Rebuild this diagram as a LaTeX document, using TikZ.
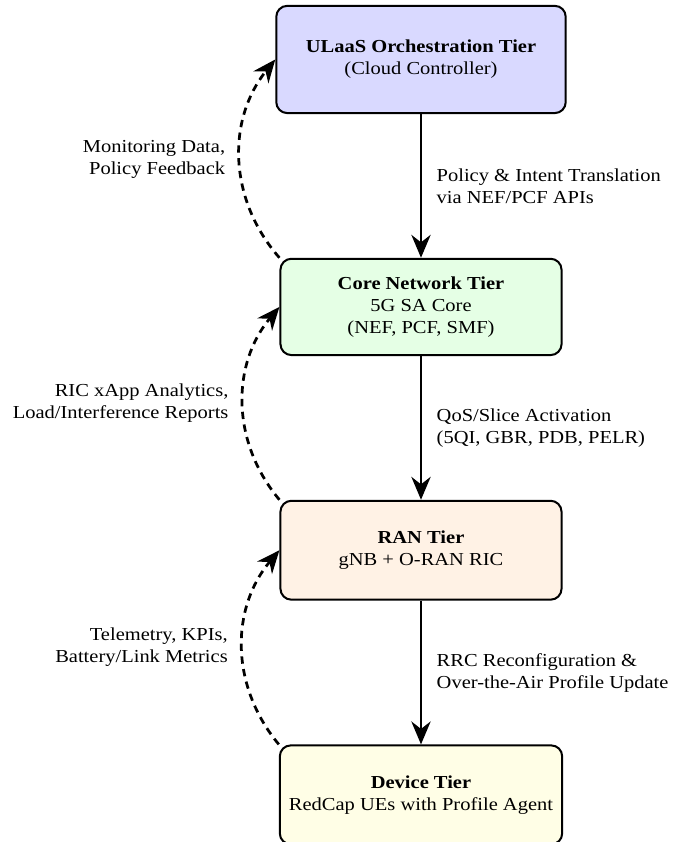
\documentclass[tikz,border=0pt]{standalone}
\usepackage{fontspec}
\setmainfont{Liberation Serif}[FakeStretch=1.12]
\usetikzlibrary{arrows.meta,positioning}

\begin{document}
\begin{tikzpicture}[line width=1.5pt,node distance=2.76cm,
  tier/.style={draw,line width=1.1pt,rounded corners=6pt,align=center,inner sep=5pt,minimum width=5.4cm,minimum height=1.9cm},
  flow/.style={-{Stealth[length=12.5pt,width=10.5pt]}},
  feedback/.style={flow,dash pattern=on 4pt off 3pt}]
\useasboundingbox (0,0) rectangle (374.9pt,-460.2pt);
\node[tier,fill=blue!15,minimum width=5.56cm,minimum height=2.06cm] (cloud) at (230.1pt,-32.5pt) {\textbf{ULaaS Orchestration Tier}\\(Cloud Controller)};
\node[tier,fill=green!10,minimum height=1.85cm,below=of cloud] (core) {\textbf{Core Network Tier}\\5G SA Core\\(NEF, PCF, SMF)};
\node[tier,fill=orange!10,below=of core] (ran) {\textbf{RAN Tier}\\gNB + O-RAN RIC};
\node[tier,fill=yellow!10,below=of ran] (ue) {\textbf{Device Tier}\\RedCap UEs with Profile Agent};
\draw[flow] (cloud) -- node[right=4.5pt,align=left] {Policy \& Intent Translation\\via NEF/PCF APIs} (core);
\draw[flow] (core) -- node[right=4.5pt,align=left] {QoS/Slice Activation\\(5QI, GBR, PDB, PELR)} (ran);
\draw[flow] (ran) -- node[right=4.5pt,align=left] {RRC Reconfiguration \&\\Over-the-Air Profile Update} (ue);
\draw[feedback] (core.north west) to[bend left=40] node[left=4pt,align=right] {Monitoring Data,\\Policy Feedback} (cloud.west);
\draw[feedback] (ran.north west) to[bend left=40] node[left=4pt,align=right] {RIC xApp Analytics,\\Load/Interference Reports} (core.west);
\draw[feedback] (ue.north west) to[bend left=40] node[left=4pt,align=right] {Telemetry, KPIs,\\Battery/Link Metrics} (ran.west);
\end{tikzpicture}
\end{document}
